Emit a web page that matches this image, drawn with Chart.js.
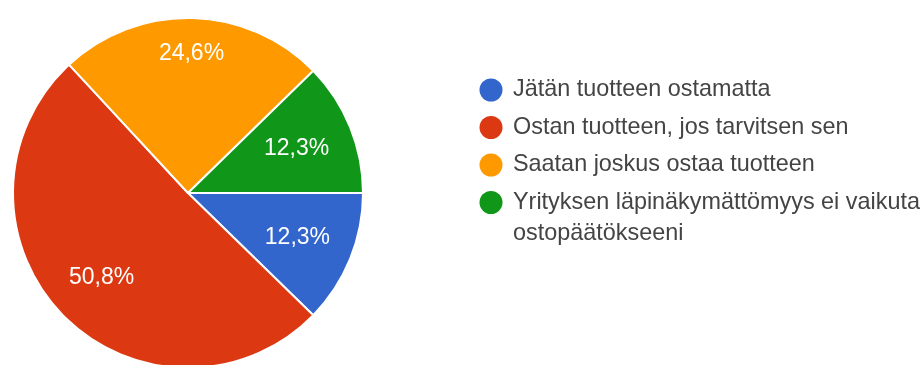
<!DOCTYPE html>
<html>
<head>
<meta charset="utf-8">
<script src="https://cdn.jsdelivr.net/npm/chart.js@4/dist/chart.umd.min.js"></script>
<style>
  body { margin:0; background:#fff; overflow:hidden; }
  #wrap { width:924px; height:370px; position:relative; }
</style>
</head>
<body>
<div id="wrap"><canvas id="myChart"></canvas></div>
<script>
// vastaukset
var labels = [
  "Jätän tuotteen ostamatta",
  "Ostan tuotteen, jos tarvitsen sen",
  "Saatan joskus ostaa tuotteen",
  "Yrityksen läpinäkymättömyys ei vaikuta ostopäätökseeni"
];
var values = [12.3, 50.8, 24.6, 12.3];
var valueLabels = ["12,3%", "50,8%", "24,6%", "12,3%"];
var colors = ["#3366cc", "#dc3912", "#ff9900", "#109618"];

// how far out the % text sits in each slice (share of radius)
var labelPos = [0.675, 0.69, 0.795, 0.67];

var FONT = "'Liberation Sans', Arial, sans-serif";

// % texts inside the slices
var sliceText = {
  id: "sliceText",
  afterDatasetsDraw: function(chart) {
    var ctx = chart.ctx;
    var meta = chart.getDatasetMeta(0);
    ctx.save();
    ctx.font = "23px " + FONT;
    ctx.fillStyle = "#ffffff";
    ctx.textAlign = "center";
    ctx.textBaseline = "middle";
    meta.data.forEach(function(arc, i) {
      var p = arc.getProps(["x", "y", "startAngle", "endAngle", "outerRadius"], true);
      var mid = (p.startAngle + p.endAngle) / 2;
      var r = p.outerRadius * labelPos[i];
      ctx.fillText(valueLabels[i], p.x + Math.cos(mid) * r, p.y + Math.sin(mid) * r);
    });
    ctx.restore();
  }
};

// legend on the right, long names wrap
var sideLegend = {
  id: "sideLegend",
  afterDraw: function(chart) {
    var ctx = chart.ctx;
    var x = 491, y = 90, maxW = 420;
    ctx.save();
    ctx.font = "23.4px " + FONT;
    ctx.textBaseline = "middle";
    labels.forEach(function(txt, i) {
      ctx.fillStyle = colors[i];
      ctx.beginPath();
      ctx.arc(x, y, 11.5, 0, Math.PI * 2);
      ctx.fill();

      // wrap words
      var words = txt.split(" "), lines = [], line = "";
      words.forEach(function(w) {
        var t = line ? line + " " + w : w;
        if (ctx.measureText(t).width > maxW && line) { lines.push(line); line = w; }
        else line = t;
      });
      lines.push(line);

      ctx.fillStyle = "#444";
      lines.forEach(function(l, k) {
        ctx.fillText(l, 513, y + k * 31);
      });
      y += 37.5 + (lines.length - 1) * 31;
    });
    ctx.restore();
  }
};

var chartConfig = {
  type: "pie",
  data: {
    labels: labels,
    datasets: [{
      data: values,
      backgroundColor: colors,
      borderColor: "#ffffff",
      borderWidth: 2
    }]
  },
  options: {
    responsive: true,
    maintainAspectRatio: false,
    animation: false,
    rotation: 90,
    layout: { padding: { left: 12, top: 17, right: 560, bottom: 1 } },
    plugins: {
      legend: { display: false },
      tooltip: { enabled: false }
    }
  },
  plugins: [sliceText, sideLegend]
};

var myChart = new Chart(document.getElementById("myChart"), chartConfig);
</script>
</body>
</html>
